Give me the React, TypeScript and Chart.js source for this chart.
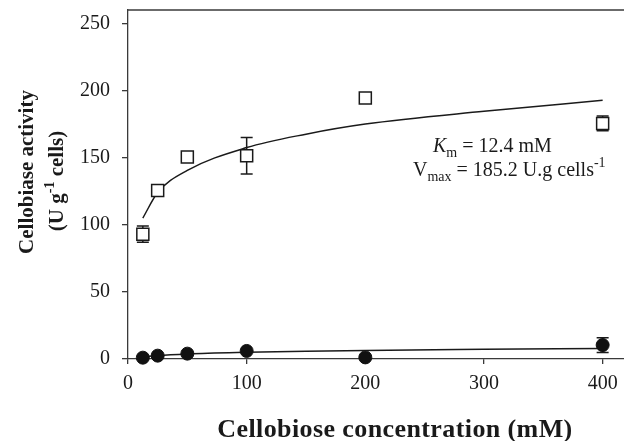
import React, { useEffect, useRef } from "react";
import { Chart, registerables } from "chart.js";

Chart.register(...registerables);

const substrate = [12.5, 25, 50, 100, 200, 400];
const activitySquares = [93, 125.5, 150.5, 151.5, 194.5, 175.5];
const errorSquares = [6, 0, 0, 13.6, 0, 5.5];
const activityCircles = [1, 2.5, 4, 6, 1.2, 10.4];
const errorCircles = [0, 0, 0, 0, 0, 5.5];

const fitX = [12.5, 25, 50, 100, 150, 200, 300, 400];
const fitSquares = [105, 124, 140.5, 157.5, 167.5, 175, 184.5, 192.7];
const fitCircles = [1.5, 2.6, 3.8, 5.0, 5.8, 6.4, 7.2, 7.9];

const xTicks = [0, 100, 200, 300, 400];
const yTicks = [0, 50, 100, 150, 200, 250];

const SERIF = '"Liberation Serif", "Times New Roman", serif';
const INK = "#1a1a1a";
const AXIS = "#3a3a3a";

const errorBarPlugin = {
  id: "errorBars",
  beforeDatasetsDraw(chart: any) {
    const { ctx, scales } = chart;
    const xs = scales.x;
    const ys = scales.y;
    const sets = [
      { vals: activitySquares, errs: errorSquares },
      { vals: activityCircles, errs: errorCircles },
    ];
    ctx.save();
    ctx.strokeStyle = INK;
    ctx.lineWidth = 1.5;
    sets.forEach((s) => {
      substrate.forEach((xv, i) => {
        const e = s.errs[i];
        if (!e) return;
        const px = xs.getPixelForValue(xv);
        const top = ys.getPixelForValue(s.vals[i] + e);
        const bot = ys.getPixelForValue(s.vals[i] - e);
        ctx.beginPath();
        ctx.moveTo(px, top);
        ctx.lineTo(px, bot);
        ctx.moveTo(px - 6, top);
        ctx.lineTo(px + 6, top);
        ctx.moveTo(px - 6, bot);
        ctx.lineTo(px + 6, bot);
        ctx.stroke();
      });
    });
    ctx.restore();
  },
};

const textPlugin = {
  id: "texts",
  afterDraw(chart: any) {
    const { ctx, chartArea } = chart;
    ctx.save();
    // top frame line
    ctx.strokeStyle = AXIS;
    ctx.lineWidth = 1.3;
    ctx.beginPath();
    ctx.moveTo(chartArea.left, chartArea.top);
    ctx.lineTo(chartArea.right, chartArea.top);
    ctx.stroke();

    ctx.fillStyle = INK;
    ctx.textBaseline = "alphabetic";
    ctx.textAlign = "left";

    // annotation
    const big = `20px ${SERIF}`;
    const small = `14px ${SERIF}`;
    let x = 433;
    let y = 152;
    ctx.font = `italic 20px ${SERIF}`;
    ctx.fillText("K", x, y);
    x += ctx.measureText("K").width;
    ctx.font = small;
    ctx.fillText("m", x, y + 5);
    x += ctx.measureText("m").width;
    ctx.font = big;
    ctx.fillText(" = 12.4 mM", x, y);

    x = 413;
    y = 176;
    ctx.font = big;
    ctx.fillText("V", x, y);
    x += ctx.measureText("V").width;
    ctx.font = small;
    ctx.fillText("max", x, y + 5);
    x += ctx.measureText("max").width;
    ctx.font = big;
    ctx.fillText(" = 185.2 U.g cells", x, y);
    x += ctx.measureText(" = 185.2 U.g cells").width;
    ctx.font = small;
    ctx.fillText("-1", x, y - 9);

    // x title
    ctx.save();
    ctx.font = `bold 26px ${SERIF}`;
    try {
      (ctx as any).letterSpacing = "0.4px";
    } catch (e) {}
    ctx.textAlign = "center";
    ctx.fillText("Cellobiose concentration (mM)", 395, 437);
    ctx.restore();

    // y title
    ctx.save();
    ctx.translate(33, 172);
    ctx.rotate(-Math.PI / 2);
    ctx.font = `bold 21px ${SERIF}`;
    ctx.textAlign = "center";
    ctx.fillText("Cellobiase activity", 0, 0);
    ctx.restore();

    ctx.save();
    ctx.translate(63, 181);
    ctx.rotate(-Math.PI / 2);
    ctx.textAlign = "left";
    const bold = `bold 21px ${SERIF}`;
    const sup = `bold 14px ${SERIF}`;
    ctx.font = bold;
    const p1 = "(U g";
    const p3 = " cells)";
    const w1 = ctx.measureText(p1).width;
    const w3 = ctx.measureText(p3).width;
    ctx.font = sup;
    const w2 = ctx.measureText("-1").width;
    let sx = -(w1 + w2 + w3) / 2;
    ctx.font = bold;
    ctx.fillText(p1, sx, 0);
    sx += w1;
    ctx.font = sup;
    ctx.fillText("-1", sx, -9);
    sx += w2;
    ctx.font = bold;
    ctx.fillText(p3, sx, 0);
    ctx.restore();

    ctx.restore();
  },
};

const zeroPad = (s: any) => {
  s.paddingTop = 0;
  s.paddingBottom = 0;
  s.paddingLeft = 0;
  s.paddingRight = 0;
};

export default function App() {
  const ref = useRef<HTMLCanvasElement | null>(null);

  useEffect(() => {
    document.body.style.margin = "0";
    const canvas = ref.current;
    if (!canvas) return;
    const chart = new Chart(canvas, {
      type: "scatter",
      data: {
        datasets: [
          {
            label: "open",
            data: substrate.map((s, i) => ({ x: s, y: activitySquares[i] })),
            pointStyle: "rect",
            pointRadius: 8.5,
            pointBackgroundColor: "#ffffff",
            pointBorderColor: INK,
            pointBorderWidth: 1.5,
            showLine: false,
          },
          {
            label: "filled",
            data: substrate.map((s, i) => ({ x: s, y: activityCircles[i] })),
            pointStyle: "circle",
            pointRadius: 6.5,
            pointBackgroundColor: "#111111",
            pointBorderColor: "#111111",
            pointBorderWidth: 1,
            showLine: false,
          },
          {
            label: "fitOpen",
            data: fitX.map((s, i) => ({ x: s, y: fitSquares[i] })),
            showLine: true,
            pointRadius: 0,
            borderColor: INK,
            borderWidth: 1.5,
            cubicInterpolationMode: "monotone",
          } as any,
          {
            label: "fitFilled",
            data: fitX.map((s, i) => ({ x: s, y: fitCircles[i] })),
            showLine: true,
            pointRadius: 0,
            borderColor: INK,
            borderWidth: 1.5,
            cubicInterpolationMode: "monotone",
          } as any,
        ],
      },
      options: {
        animation: false,
        responsive: false,
        clip: false as any,
        layout: {
          autoPadding: false,
          padding: { top: 10, right: 0, left: 0, bottom: 0 },
        },
        plugins: { legend: { display: false }, tooltip: { enabled: false } },
        scales: {
          x: {
            type: "linear",
            min: 0,
            max: 418,
            afterBuildTicks: (s: any) => {
              s.ticks = xTicks.map((v) => ({ value: v }));
            },
            afterFit: (s: any) => {
              s.height = 82;
              zeroPad(s);
            },
            grid: {
              drawOnChartArea: false,
              drawTicks: true,
              tickLength: 5,
              color: AXIS,
              lineWidth: 1.3,
            },
            border: { display: true, color: AXIS, width: 1.3 },
            ticks: {
              color: INK,
              padding: 8,
              font: { family: SERIF, size: 20 },
              maxRotation: 0,
            },
          },
          y: {
            type: "linear",
            min: 0,
            max: 260,
            afterBuildTicks: (s: any) => {
              s.ticks = yTicks.map((v) => ({ value: v }));
            },
            afterFit: (s: any) => {
              s.width = 128;
              zeroPad(s);
            },
            grid: {
              drawOnChartArea: false,
              drawTicks: true,
              tickLength: 6,
              color: AXIS,
              lineWidth: 1.3,
            },
            border: { display: true, color: AXIS, width: 1.3 },
            ticks: {
              color: INK,
              padding: 12,
              font: { family: SERIF, size: 20 },
            },
          },
        },
      },
      plugins: [errorBarPlugin, textPlugin],
    });
    return () => chart.destroy();
  }, []);

  return (
    <div style={{ width: 624, height: 441 }}>
      <canvas ref={ref} width={624} height={441} style={{ display: "block" }} />
    </div>
  );
}
